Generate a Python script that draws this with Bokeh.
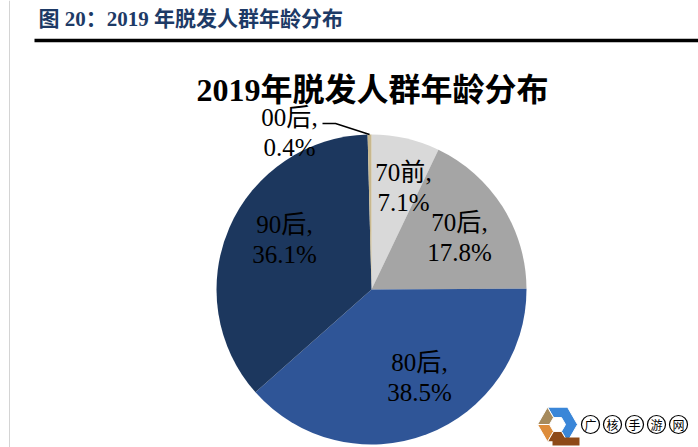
import math
from bokeh.plotting import figure
from bokeh.models import ColumnDataSource, Range1d
from bokeh.core.properties import value
from bokeh.embed import file_html
from bokeh.resources import INLINE

# ---- data ----
categories = ["70前", "70后", "80后", "90后", "00后"]
shares = [7.1, 17.8, 38.5, 36.1, 0.4]
colors = ["#d9d9d9", "#a5a5a5", "#2f5597", "#1c375e", "#c8b88e"]
chart_title = "2019年脱发人群年龄分布"
header = "图 20：2019 年脱发人群年龄分布"
watermark = ["广", "核", "手", "游", "网"]

# ---- layout (pixel-like data space) ----
W, H = 698, 447
SERIF = "Liberation Serif, Times New Roman, Noto Sans CJK SC"

def Y(screen_y):
    return 447 - screen_y

p = figure(width=W, height=H, output_backend="svg", toolbar_location=None,
           x_range=Range1d(0, 698), y_range=Range1d(0, 447),
           min_border=0, outline_line_color=None, background_fill_color="white")
p.axis.visible = False
p.grid.visible = False

# page decorations
p.segment(x0=[9], y0=[0], x1=[9], y1=[447], line_color="#d4d4d4", line_width=1)
p.segment(x0=[34], y0=[Y(40)], x1=[698], y1=[Y(40)], line_color="black", line_width=3.5)
p.text(x=[38], y=[Y(18)], text=[header], text_font=value(SERIF), text_font_style="bold",
       text_font_size="21px", text_color="#1d3a66", text_baseline="middle", text_align="left")

# title
p.text(x=[372], y=[Y(89)], text=[chart_title], text_font=value(SERIF), text_font_style="bold",
       text_font_size="32px", text_color="black", text_baseline="middle", text_align="center")

# pie
cx, cy, r = 371, Y(289), 155
total = sum(shares)
starts, ends, mids = [], [], []
acc = 0.0
for s in shares:
    a0 = math.pi / 2 - 2 * math.pi * acc / total
    acc += s
    a1 = math.pi / 2 - 2 * math.pi * acc / total
    starts.append(a0); ends.append(a1); mids.append((a0 + a1) / 2)

src = ColumnDataSource(dict(cat=categories, share=shares, color=colors,
                            start=starts, end=ends))
p.wedge(x=cx, y=cy, radius=r, start_angle="start", end_angle="end",
        direction="clock", fill_color="color", line_color=None, source=src)

# labels (block-centre offsets from pie centre, in px)
label_off = [(32, 102), (88, 52), (48, -88), (-87, 50), (-82, 157)]
line_gap = 15
for cat, s, (dx, dy) in zip(categories, shares, label_off):
    lx, ly = cx + dx, cy + dy
    p.text(x=[lx], y=[ly + line_gap], text=[f"{cat},"], text_font=value(SERIF),
           text_font_size="25px", text_color="black", text_baseline="middle", text_align="center")
    p.text(x=[lx], y=[ly - line_gap], text=[f"{s}%"], text_font=value(SERIF),
           text_font_size="25px", text_color="black", text_baseline="middle", text_align="center")

# leader line for the tiny slice
m = mids[4]
ex, ey = cx + r * math.cos(m), cy + r * math.sin(m)
p.line(x=[322, 335, ex], y=[Y(123), Y(123), ey], line_color="black", line_width=1.5)

# watermark logo: hexagonal ring in coloured segments
lx0, ly0, ro, ri = 557, Y(424), 20, 8
def ring_seg(a0, a1):
    angs = [a0 + (a1 - a0) * k / 2 for k in range(3)] if abs(a1 - a0) > 60 else [a0, a1]
    outer = [(lx0 + ro * math.cos(math.radians(a)), ly0 + ro * math.sin(math.radians(a))) for a in angs]
    inner = [(lx0 + ri * math.cos(math.radians(a)), ly0 + ri * math.sin(math.radians(a))) for a in reversed(angs)]
    pts = outer + inner
    return [q[0] for q in pts], [q[1] for q in pts]
segs = [(120, -60, "#3a86d8"), (180, 120, "#a68a5c"), (240, 180, "#dd8c3a"), (300, 240, "#8e4a18")]
xs, ys, cs = [], [], []
for a0, a1, c in segs:
    if a0 - a1 > 60:
        sx, sy = [], []
        for a in range(a0, a1 - 1, -60):
            sx.append(lx0 + ro * math.cos(math.radians(a))); sy.append(ly0 + ro * math.sin(math.radians(a)))
        for a in range(a1, a0 + 1, 60):
            sx.append(lx0 + ri * math.cos(math.radians(a))); sy.append(ly0 + ri * math.sin(math.radians(a)))
    else:
        sx, sy = ring_seg(a0, a1)
    xs.append(sx); ys.append(sy); cs.append(c)
p.patches(xs=xs, ys=ys, fill_color=cs, line_color="white", line_width=1)
p.quad(left=[552], right=[579], bottom=[Y(445)], top=[Y(437)], fill_color="#8e4a18", line_color=None)

wx = [590, 612, 634, 656, 678]
p.circle(x=wx, y=[Y(424)] * 5, radius=9, fill_color="white", line_color="black", line_width=1.2)
p.text(x=wx, y=[Y(424)] * 5, text=watermark, text_font=value("Noto Sans CJK SC"),
       text_font_size="12px", text_color="black", text_baseline="middle", text_align="center")

open("out.html", "w").write(file_html(p, INLINE))
